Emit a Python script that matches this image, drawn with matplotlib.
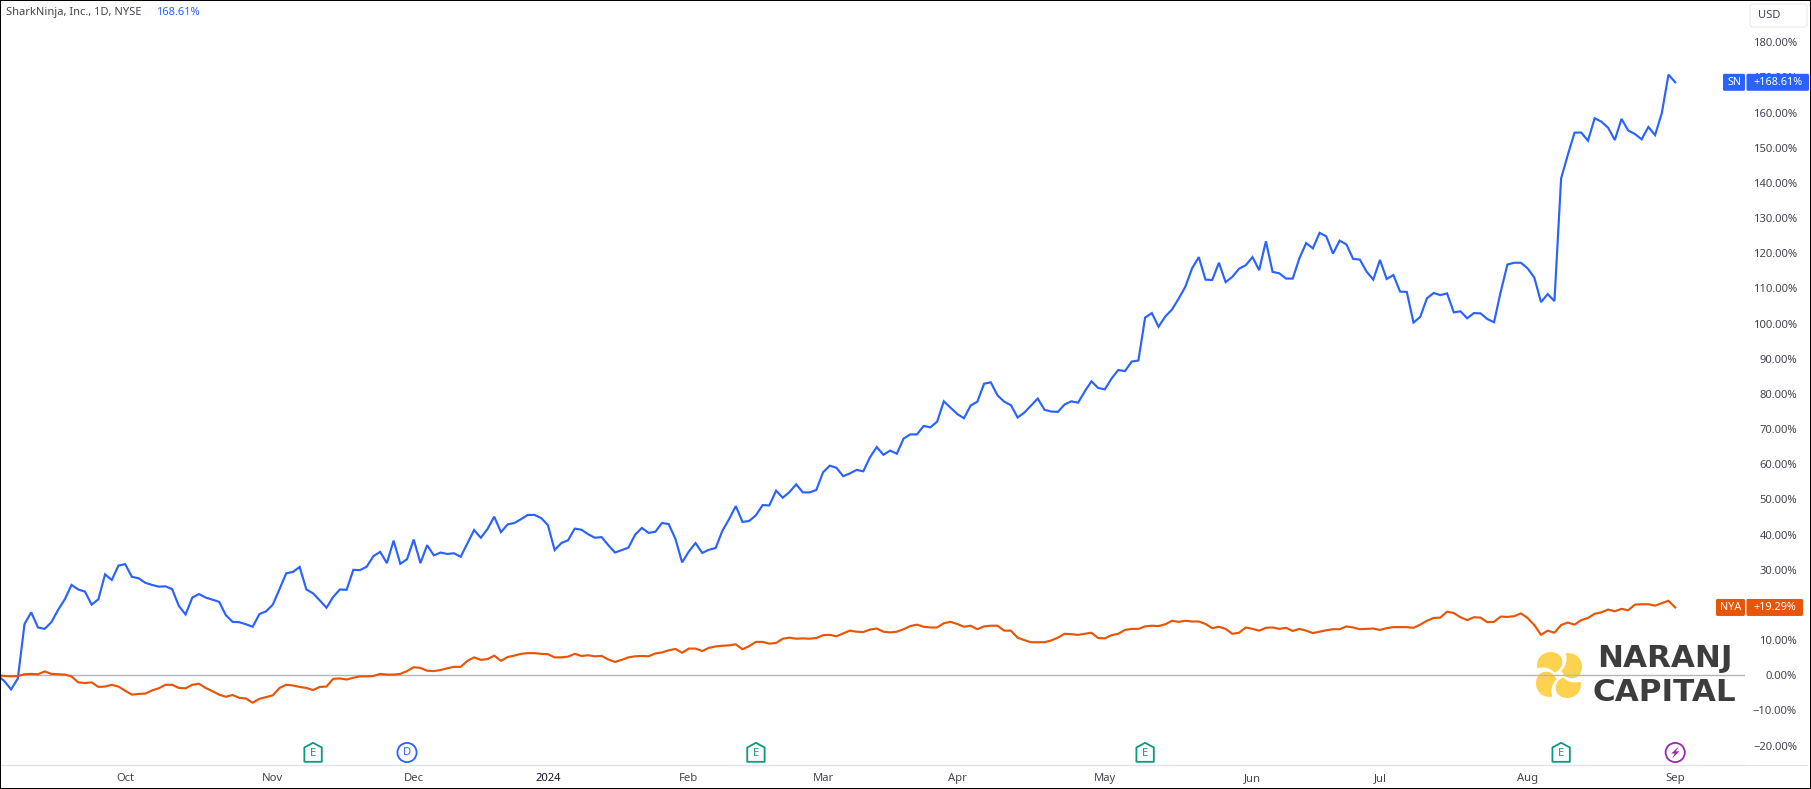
import matplotlib
matplotlib.use("Agg")
import matplotlib.pyplot as plt
from matplotlib.path import Path
from matplotlib.patches import PathPatch, Rectangle, FancyBboxPatch, Circle, Polygon
from matplotlib.transforms import Affine2D
import numpy as np

# ---- data (percent change) ----
sn_values = [
 0.0,-1.7,-4.0,-0.9,14.6,17.9,13.6,13.2,15.1,18.6,21.6,25.7,24.4,23.8,20.1,21.6,28.7,27.1,31.2,31.6,
 28.0,27.6,26.3,25.7,25.2,25.3,24.5,19.7,17.3,22.1,23.1,22.1,21.5,20.9,17.1,15.2,15.1,14.5,13.8,17.4,
 18.2,20.1,24.5,29.0,29.4,30.8,24.4,23.3,21.3,19.2,22.3,24.4,24.3,30.0,29.9,30.9,33.9,35.1,31.9,38.3,
 31.7,33.0,38.6,31.9,37.0,34.1,34.9,34.5,34.7,33.7,37.5,41.3,39.1,41.6,45.1,40.7,42.9,43.3,44.4,45.6,
 45.6,44.7,42.7,35.6,37.6,38.4,41.7,41.4,40.1,39.1,39.3,37.0,34.9,35.6,36.3,40.0,41.9,40.5,40.8,43.3,
 43.0,38.8,32.1,35.2,37.6,34.8,35.7,36.2,41.1,44.4,48.1,43.6,43.9,45.5,48.4,48.3,52.5,50.5,52.1,54.3,
 52.0,52.0,52.7,57.7,59.6,59.0,56.6,57.4,58.4,58.0,62.0,64.9,62.7,63.9,63.0,67.3,68.5,68.5,70.9,70.5,
 72.1,77.9,76.1,74.3,73.1,76.7,77.8,82.9,83.3,79.6,77.8,76.8,73.3,74.7,76.7,78.7,75.5,75.0,74.9,77.0,
 77.9,77.5,80.7,83.6,81.7,81.3,84.4,86.8,86.5,89.2,89.5,101.7,103.0,99.1,102.0,104.0,107.1,110.5,115.7,118.9,
 112.5,112.4,117.3,111.8,113.3,115.6,116.6,118.9,115.2,123.4,114.7,114.3,112.8,112.8,118.6,122.9,121.4,125.8,124.8,119.9,
 123.6,122.5,118.4,118.2,114.8,112.5,118.1,112.7,113.8,109.1,109.0,100.3,101.9,107.2,108.7,108.1,108.6,103.2,103.5,101.5,
 103.0,102.9,101.3,100.4,109.1,116.8,117.3,117.3,115.7,113.1,106.1,108.4,106.4,141.3,148.0,154.3,154.3,152.0,158.4,157.4,
 155.7,152.2,158.2,154.9,153.9,152.4,155.9,153.6,159.8,170.8,168.61]
nya_values = [
 0.0,-0.2,-0.3,-0.2,0.3,0.4,0.3,1.1,0.4,0.3,0.2,-0.3,-2.0,-2.2,-2.0,-3.3,-3.2,-2.7,-3.2,-4.4,
 -5.5,-5.3,-5.2,-4.3,-3.7,-2.7,-2.7,-3.6,-3.7,-2.7,-2.4,-3.6,-4.5,-5.5,-6.1,-5.6,-6.4,-6.6,-7.8,-6.7,
 -6.2,-5.7,-3.6,-2.7,-2.9,-3.3,-3.6,-4.2,-3.3,-3.2,-1.0,-0.9,-1.2,-0.7,-0.3,-0.3,-0.2,0.4,0.2,0.2,
 0.4,1.2,2.3,2.1,1.3,1.2,1.5,2.0,2.4,2.4,4.1,5.1,4.4,4.6,5.6,4.1,5.2,5.6,6.1,6.3,
 6.3,6.1,6.0,5.1,5.1,5.3,6.1,5.5,5.7,5.4,5.5,4.5,3.8,4.4,5.1,5.4,5.5,5.4,6.2,6.5,
 7.1,7.5,6.4,7.6,7.6,6.9,7.8,8.2,8.4,8.5,8.8,7.4,8.3,9.5,9.5,9.0,9.2,10.4,10.7,10.4,
 10.5,10.4,10.6,11.4,11.5,11.1,11.9,12.7,12.4,12.3,13.0,13.3,12.4,12.2,12.4,13.1,14.0,14.4,13.8,13.6,
 13.6,14.8,15.2,14.6,13.8,14.1,13.1,13.9,14.1,14.1,12.7,12.7,10.7,10.0,9.4,9.4,9.4,9.9,10.7,11.8,
 11.7,11.5,11.8,12.1,10.6,10.5,11.4,11.8,12.9,13.2,13.2,13.9,14.1,14.0,14.5,15.5,15.2,15.5,15.3,15.3,
 14.6,13.4,13.8,13.2,11.8,12.1,13.6,13.2,12.7,13.5,13.6,13.2,13.5,12.6,13.2,12.7,12.0,12.4,12.8,13.1,
 13.1,13.9,13.6,13.1,13.2,13.3,12.9,13.4,13.7,13.7,13.7,13.5,14.4,15.5,16.3,16.4,18.1,17.7,16.5,15.7,
 16.5,16.4,15.1,15.2,16.7,16.6,16.8,17.6,16.3,14.3,11.5,12.7,12.1,14.3,15.0,14.4,15.7,16.3,17.5,17.9,
 18.7,18.2,18.9,18.5,20.1,20.2,20.2,19.8,20.5,21.2,19.29]
# 20.00% is hidden behind the NYA tag in the reference, so it is not labelled
y_ticks = [180,170,160,150,140,130,120,110,100,90,80,70,60,50,40,30,10,0,-10,-20]
month_labels = ["Oct","Nov","Dec","2024","Feb","Mar","Apr","May","Jun","Jul","Aug","Sep"]
month_index = [19,41,62,82,103,123,143,165,187,206,228,250]
earnings_index = [47,113,171,233]
dividend_index = [61]
split_index = [250]

# ---- style ----
W, H = 1811, 789
BLUE = "#2962ff"
ORANGE = "#e85506"
TEAL = "#089981"
PURPLE = "#9c27b0"
TXT = "#434651"
LINE = "#e0e3eb"
FONT = "Noto Sans"
plt.rcParams["font.family"] = [FONT, "DejaVu Sans"]

fig = plt.figure(figsize=(W/100, H/100), dpi=100, facecolor="white")
AX_R, AX_B = 1745, 765
ax = fig.add_axes([0, 1-AX_B/H, AX_R/W, AX_B/H])
ax.patch.set_visible(False)
pix = Affine2D().scale(1, -1).translate(0, H)

STEP, X0 = 6.71, -2.3
PPU, Y0 = 3.517, 675.3
ax.set_xlim((0-X0)/STEP, (AX_R-X0)/STEP)
ax.set_ylim((Y0-AX_B)/PPU, Y0/PPU)
def xpx(i): return X0 + STEP*i
def ypx(v): return Y0 - PPU*v

xs = np.arange(len(sn_values))
ax.axhline(0, color="#b2b5be", lw=1.0, zorder=2)
ax.plot(xs, sn_values, color=BLUE, lw=1.55, solid_joinstyle="miter", zorder=3)
ax.plot(xs, nya_values, color=ORANGE, lw=1.55, zorder=4)

for s in ["top","left","right"]:
    ax.spines[s].set_visible(False)
ax.spines["bottom"].set_color(LINE)
ax.spines["bottom"].set_linewidth(1.0)

ax.yaxis.tick_right()
ax.set_yticks(y_ticks)
ax.set_yticklabels([f"{v:.2f}%".replace("-", "\u2212") for v in y_ticks], ha="right")
ax.tick_params(axis="y", length=0, pad=37.4, labelsize=8.1, labelcolor=TXT)
ax.set_xticks(month_index)
ax.set_xticklabels(month_labels)
ax.tick_params(axis="x", length=0, pad=5.5, labelsize=8.1, labelcolor=TXT)
for lab in ax.get_xticklabels():
    if lab.get_text() == "2024":
        lab.set_fontweight("bold")
        lab.set_color("#131722")

def ptext(x, y, s, **kw):
    kw.setdefault("va", "center"); kw.setdefault("ha", "left")
    return ax.text(x, y, s, transform=pix, clip_on=False, **kw)

# header
ptext(6, 12.7, "SharkNinja, Inc., 1D, NYSE", color=TXT, fontsize=8.0)
ptext(156, 12.7, "168.61%", color=BLUE, fontsize=8.0)

# USD button
ax.add_patch(FancyBboxPatch((1750, 4), 57, 23, boxstyle="round,pad=0,rounding_size=3",
             fc="white", ec="#eceef3", lw=1.0, transform=pix, clip_on=False, zorder=5))
ptext(1758, 15.5, "USD", color=TXT, fontsize=8.0, zorder=6)

# axis bottom line over price scale
ax.add_patch(Rectangle((1746, 765), 62, 1, fc=LINE, ec="none", transform=pix, clip_on=False))

# price tags
def tag(value, name, txt, color, name_x0, val_x1):
    yc = ypx(value)
    for (a, b) in ((name_x0, 1745), (1746.5, val_x1)):
        ax.add_patch(FancyBboxPatch((a, yc-8.5), b-a, 17, boxstyle="round,pad=0,rounding_size=1.5",
                     fc=color, ec="none", transform=pix, clip_on=False, zorder=7))
    ptext((name_x0+1745)/2, yc, name, color="white", fontsize=7.8, ha="center", zorder=8, fontweight="bold")
    ptext((1746.5+val_x1)/2, yc, txt, color="white", fontsize=7.8, ha="center", zorder=8, fontweight="bold")
tag(sn_values[-1], "SN", f"+{sn_values[-1]:.2f}%", BLUE, 1723, 1809)
tag(nya_values[-1], "NYA", f"+{nya_values[-1]:.2f}%", ORANGE, 1716, 1803)

# event markers
YM = 752.5
for i in earnings_index:
    cx = xpx(i)
    ax.add_patch(Polygon([(cx-8.7, YM+9.3), (cx+8.7, YM+9.3), (cx+8.7, YM-5.0), (cx, YM-9.7), (cx-8.7, YM-5.0)],
                 closed=True, fc="white", ec=TEAL, lw=1.3, joinstyle="round", transform=pix, clip_on=False, zorder=5))
    ptext(cx, YM+1.2, "E", color=TEAL, fontsize=8.0, ha="center", zorder=6)
for i in dividend_index:
    cx = xpx(i)
    ax.add_patch(Circle((cx, YM), 9.6, fc="white", ec=BLUE, lw=1.3, transform=pix, clip_on=False, zorder=5))
    ptext(cx, YM, "D", color=BLUE, fontsize=8.0, ha="center", zorder=6)
for i in split_index:
    cx = xpx(i)
    ax.add_patch(Circle((cx, YM), 9.6, fc="white", ec=PURPLE, lw=1.3, transform=pix, clip_on=False, zorder=5))
    ax.add_patch(Polygon([(cx+3.6, YM-6), (cx-4, YM+1), (cx-0.4, YM+1), (cx-3.2, YM+6), (cx+4.2, YM-1.2), (cx+0.6, YM-1.2)],
                 closed=True, fc=PURPLE, ec="none", transform=pix, clip_on=False, zorder=6))

# logo (below the zero line)
LX, LY = 1559, 675
def rot(p, k):
    x, y = p
    for _ in range(k):
        x, y = -y, x
    return (LX + x/3, LY + y/3)
petal = [(-65,-20), (-72,-66), (-22,-82), (3,-58), (17,-40), (10,-17), (-13,-7), (-26,-22), (-46,-26), (-65,-20)]
codes = [Path.MOVETO] + [Path.CURVE4]*9
for k in range(4):
    ax.add_patch(PathPatch(Path([rot(p, k) for p in petal], codes), fc="#fdd24f", ec="none",
                 transform=pix, clip_on=False, zorder=1))
ptext(1664.5, 658.7, "NARANJ", color="#3d3d3d", fontsize=22.3, fontweight="bold", ha="center", family="DejaVu Sans", zorder=6)
ptext(1664, 692.7, "CAPITAL", color="#3d3d3d", fontsize=22.3, fontweight="bold", ha="center", family="DejaVu Sans", zorder=6)

# frame
fig.add_artist(Rectangle((0, 0), 1, 1, transform=fig.transFigure, fill=False, ec="black", lw=1.44))

fig.savefig("out.png", dpi=100, facecolor="white")
